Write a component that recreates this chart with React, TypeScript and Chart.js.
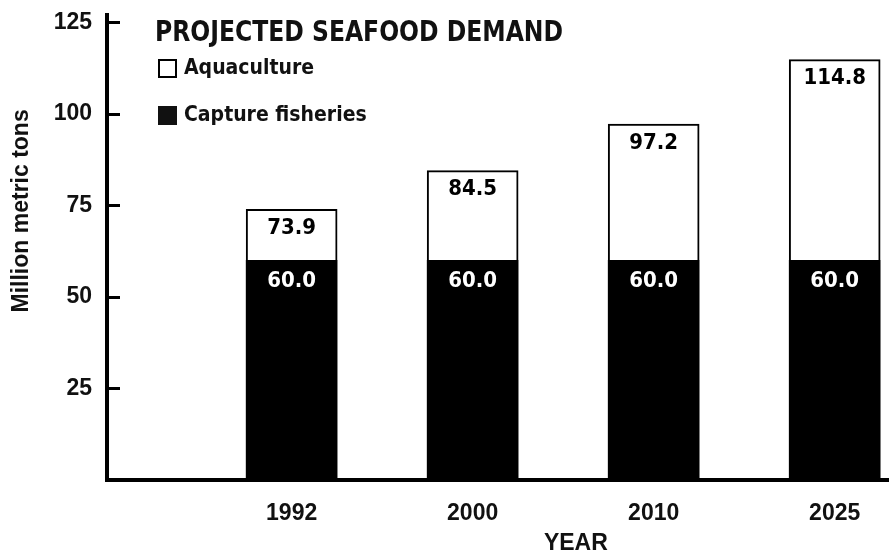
import React, { useEffect, useRef } from "react";
import { Chart, registerables } from "chart.js";

Chart.register(...registerables);

const years = ["1992", "2000", "2010", "2025"];
const captureFisheries = [60.0, 60.0, 60.0, 60.0];
const aquaculture = [13.9, 24.5, 37.2, 54.8];
const totalDemand = [73.9, 84.5, 97.2, 114.8];
const yTickValues = [25, 50, 75, 100, 125];

const chartTitle = "PROJECTED SEAFOOD DEMAND";
const yTitle = "Million metric tons";
const xTitle = "YEAR";

const CONDENSED = '"DejaVu Sans Condensed", "DejaVu Sans", sans-serif';
const SANS = '"Liberation Sans", Arial, sans-serif';

const overlayPlugin = {
  id: "overlay",
  afterDatasetsDraw(chart: any) {
    const { ctx, chartArea, scales } = chart;
    const y = scales.y;
    const x = scales.x;
    ctx.save();
    // inward tick marks on the y axis
    ctx.strokeStyle = "#000";
    ctx.lineWidth = 3;
    yTickValues.forEach((v) => {
      const py = Math.round(y.getPixelForValue(v)) + 0.5;
      ctx.beginPath();
      ctx.moveTo(chartArea.left, py);
      ctx.lineTo(chartArea.left + 13, py);
      ctx.stroke();
    });

    // value labels in bars
    ctx.textAlign = "center";
    ctx.textBaseline = "middle";
    ctx.font = `bold 22px ${CONDENSED}`;
    const capMeta = chart.getDatasetMeta(0);
    capMeta.data.forEach((bar: any, i: number) => {
      ctx.fillStyle = "#fff";
      ctx.fillText(captureFisheries[i].toFixed(1), bar.x, bar.y + 21);
    });
    const aqMeta = chart.getDatasetMeta(1);
    aqMeta.data.forEach((bar: any, i: number) => {
      ctx.fillStyle = "#000";
      ctx.fillText(totalDemand[i].toFixed(1), bar.x, bar.y + 19);
    });

    // title (slightly condensed)
    ctx.textAlign = "left";
    ctx.textBaseline = "alphabetic";
    ctx.fillStyle = "#111";
    ctx.font = `bold 29px ${CONDENSED}`;
    ctx.save();
    ctx.translate(chartArea.left + 48, 41);
    ctx.scale(0.9, 1);
    ctx.fillText(chartTitle, 0, 0);
    ctx.restore();

    // legend
    const lx = chartArea.left + 51;
    ctx.lineWidth = 2;
    ctx.strokeStyle = "#000";
    ctx.fillStyle = "#fff";
    ctx.fillRect(lx, 59, 18, 18);
    ctx.strokeRect(lx + 1, 60, 17, 17);
    ctx.fillStyle = "#111";
    ctx.fillRect(lx, 106, 19, 19);
    ctx.font = `bold 21px ${CONDENSED}`;
    ctx.textBaseline = "middle";
    ctx.fillStyle = "#111";
    ctx.fillText(chart.data.datasets[1].label, lx + 26, 69);
    ctx.fillText(chart.data.datasets[0].label, lx + 26, 116);

    // axis titles
    ctx.font = `bold 23px ${SANS}`;
    ctx.textAlign = "center";
    ctx.fillStyle = "#111";
    ctx.fillText(xTitle, x.getPixelForValue(1.57), 544);
    ctx.save();
    ctx.translate(22, y.getPixelForValue(73.5));
    ctx.rotate(-Math.PI / 2);
    ctx.fillText(yTitle, 0, 0);
    ctx.restore();
    ctx.restore();
  },
};

export default function App() {
  const ref = useRef<HTMLCanvasElement | null>(null);
  useEffect(() => {
    if (!ref.current) return;
    const chart = new Chart(ref.current, {
      type: "bar",
      data: {
        datasets: [
          {
            label: "Capture fisheries",
            data: captureFisheries.map((v, i) => ({ x: i, y: v })),
            backgroundColor: "#000",
            borderWidth: 0,
            barThickness: 91,
          },
          {
            label: "Aquaculture",
            data: aquaculture.map((v, i) => ({ x: i, y: v })),
            backgroundColor: "#fff",
            borderColor: "#000",
            borderWidth: 2,
            borderSkipped: "bottom",
            barThickness: 91,
          },
        ],
      },
      options: {
        animation: false,
        responsive: false,
        maintainAspectRatio: false,
        layout: { padding: { top: 15, right: 0, left: 0, bottom: 0 } },
        plugins: {
          legend: { display: false },
          tooltip: { enabled: false },
          title: { display: false },
        },
        scales: {
          x: {
            type: "linear",
            stacked: true,
            offset: false,
            min: -1.02,
            max: 3.3,
            grid: { display: false, drawTicks: false, offset: false },
            border: { display: true, color: "#000", width: 4 },
            afterBuildTicks: (s: any) => {
              s.ticks = years.map((_, i) => ({ value: i }));
            },
            ticks: {
              callback: (v: any) => years[v] ?? "",
              color: "#111",
              font: { family: SANS, size: 23, weight: "bold" },
              padding: 20,
              maxRotation: 0,
              autoSkip: false,
            },
            afterFit: (s: any) => {
              s.height = 74;
              s.paddingLeft = 0;
              s.paddingRight = 0;
            },
          },
          y: {
            stacked: true,
            min: 0,
            max: 127,
            grid: { display: false, drawTicks: false },
            border: { display: true, color: "#000", width: 4 },
            afterBuildTicks: (s: any) => {
              s.ticks = yTickValues.map((v) => ({ value: v }));
            },
            ticks: {
              color: "#111",
              font: { family: SANS, size: 23, weight: "bold" },
              padding: 15,
            },
            afterFit: (s: any) => {
              s.width = 107;
              s.paddingTop = 0;
              s.paddingBottom = 0;
            },
          },
        },
      },
      plugins: [overlayPlugin],
    } as any);
    return () => chart.destroy();
  }, []);
  return (
    <div style={{ position: "absolute", left: 0, top: 0, width: 889, height: 554, background: "#fff" }}>
      <canvas ref={ref} width={889} height={554} style={{ display: "block" }} />
    </div>
  );
}
